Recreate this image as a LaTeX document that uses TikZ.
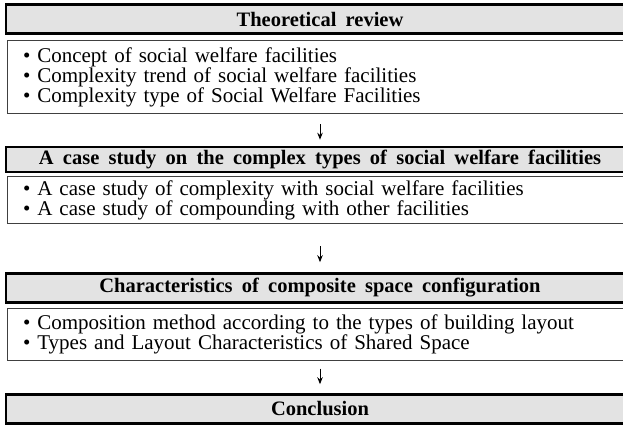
\documentclass[tikz,border=0pt]{standalone}
\usepackage{fontspec}
\setmainfont{Liberation Serif}[WordSpace=1.8]
\usetikzlibrary{arrows.meta}

\begin{document}
\begin{tikzpicture}[x=1pt, y=-1pt,
    head/.style = {draw, line width=2.6pt, fill=black!11, minimum width=628pt,
        inner sep=0pt, font=\fontsize{20.5}{22}\selectfont\bfseries},
    items/.style = {draw=black!75, line width=1pt, minimum width=626pt, text width=594pt,
        inner xsep=16pt, align=left, font=\fontsize{21}{20}\selectfont},
    step arrow/.style = {line width=1pt, -{Stealth[length=7pt, width=5.5pt]}}]
    \useasboundingbox (0,0) rectangle (623,425);
    \clip (0,0) rectangle (623,425);

    \node[head, minimum height=29pt] (review) at (320,19) {Theoretical review};
    \node[items, minimum height=73pt] (reviewlist) at (320,77)
        {• Concept of social welfare facilities\\
         • Complexity trend of social welfare facilities\\
         • Complexity type of Social Welfare Facilities};

    \node[head, minimum height=25pt] (cases) at (320,159.5)
        {A case study on the complex types of social welfare facilities};
    \node[items, minimum height=47pt] (caseslist) at (320,200)
        {• A case study of complexity with social welfare facilities\\
         • A case study of compounding with other facilities};

    \node[head, minimum height=29pt] (config) at (320,288)
        {Characteristics of composite space configuration};
    \node[items, minimum height=52pt] (configlist) at (320,334)
        {• Composition method according to the types of building layout\\
         • Types and Layout Characteristics of Shared Space};

    \node[head, minimum height=29pt] (conclusion) at (320,409) {Conclusion};

    \draw[step arrow, shorten <=10pt, shorten >=6pt] (reviewlist) -- (cases);
    \draw[step arrow, shorten <=22pt, shorten >=10pt] (caseslist) -- (config);
    \draw[step arrow, shorten <=8pt, shorten >=9pt] (configlist) -- (conclusion);

\end{tikzpicture}
\end{document}
